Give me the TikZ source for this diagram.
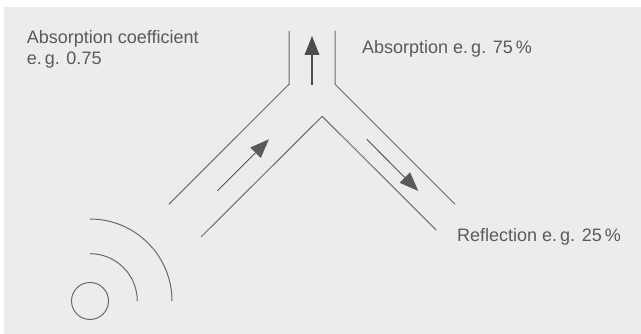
\documentclass[tikz,border=0pt]{standalone}
\usepackage{fontspec}
\setmainfont{Liberation Sans}
\usetikzlibrary{arrows.meta}
\definecolor{bggray}{HTML}{ECECEC}
\definecolor{linegray}{HTML}{6A6A6A}
\definecolor{arrowgray}{HTML}{5A5A5A}
\definecolor{textgray}{HTML}{5A5A5A}
\tikzset{
  wall/.style={draw=linegray, line width=1pt},
  flow/.style={draw=arrowgray, line width=1.2pt, -{Triangle[length=19pt,width=14.5pt]}, fill=arrowgray},
  label/.style={text=textgray, font=\fontsize{18}{21.7}\selectfont, inner sep=0pt, anchor=base west, align=left},
}
\begin{document}
\begin{tikzpicture}[x=1pt,y=1pt]
\useasboundingbox (0,0) rectangle (641,334);
\fill[bggray] (4,0) rectangle (641,326.7);
% channel walls
\draw[wall] (289,303) -- (289,249.7) -- (168.8,129.7);
\draw[wall] (335,303) -- (335,249.7) -- (455,129.7);
\draw[wall] (201,97) -- (322.2,217.7) -- (436.2,104);
% flow arrows
\coordinate (a1) at (217.5,143.3);
\coordinate (a2) at (269,194.7);
\coordinate (v1) at (312,249.3);
\coordinate (v2) at (312,298);
\coordinate (r1) at (366.7,194.7);
\coordinate (r2) at (418.3,143);
\draw[flow, line width=0.9pt] (a1) -- (a2);
\draw[flow, line width=2pt, draw=arrowgray!85!black] (v1) -- (v2);
\draw[flow, line width=0.9pt] (r1) -- (r2);
% source
\node[draw=linegray, line width=1pt, circle, minimum size=37pt, inner sep=0pt] (src) at (90,33) {};
\draw[wall] (90,80.3) arc[start angle=90, end angle=0, radius=47.3];
\draw[wall] (90,115) arc[start angle=90, end angle=0, radius=82];
% labels
\node[label] (coef) at (26.6,269) {Absorption coefficient\\e.\,g. 0.75};
\node[label] (abs) at (362,280.7) {Absorption e.\,g. 75\,\%};
\node[label] (refl) at (457,92.3) {Reflection e.\,g. 25\,\%};
\end{tikzpicture}
\end{document}
